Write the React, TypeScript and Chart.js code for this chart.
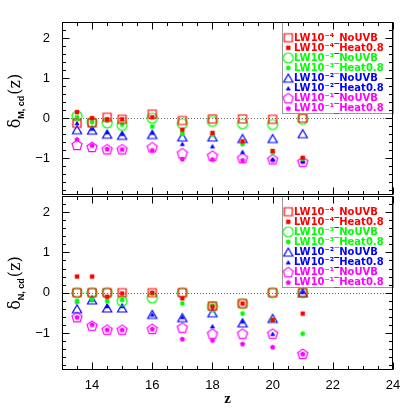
import React, { useEffect, useRef } from 'react';
import { Chart, registerables } from 'chart.js';

Chart.register(...registerables);

// ---------- data ----------
const zValues = [13.5, 14, 14.5, 15, 16, 17, 18, 19, 20, 21];
const xTickValues = [14, 16, 18, 20, 22, 24];
const yTickValues = [-1, 0, 1, 2];

const seriesLabels = [
  'LW10⁻⁴_NoUVB',
  'LW10⁻⁴_Heat0.8',
  'LW10⁻³_NoUVB',
  'LW10⁻³_Heat0.8',
  'LW10⁻²_NoUVB',
  'LW10⁻²_Heat0.8',
  'LW10⁻¹_NoUVB',
  'LW10⁻¹_Heat0.8',
];
const seriesColors = ['#ff0000', '#ff0000', '#00ff00', '#00ff00', '#0000ff', '#0000ff', '#ff00ff', '#ff00ff'];
const seriesShapes = ['square', 'square', 'circle', 'circle', 'triangle', 'triangle', 'pentagon', 'pentagon'];
const seriesFilled = [false, true, false, true, false, true, false, true];

// top panel: delta_M,cd(z)
const mLw4NoUvb = [-0.13, -0.12, 0.02, -0.03, 0.1, -0.06, -0.02, -0.02, -0.03, 0];
const mLw4Heat = [0.15, 0, -0.03, -0.03, 0.02, -0.29, -0.37, -0.58, -0.82, -0.99];
const mLw3NoUvb = [0.05, -0.1, -0.12, -0.18, 0, -0.14, -0.08, -0.14, -0.16, -0.03];
const mLw3Heat = [0.02, -0.1, -0.06, -0.16, -0.21, -0.39, -0.41, -0.65, -0.86, -1.02];
const mLw2NoUvb = [-0.29, -0.3, -0.4, -0.43, -0.41, -0.47, -0.47, -0.51, -0.51, -0.39];
const mLw2Heat = [-0.12, -0.26, -0.35, -0.39, -0.36, -0.64, -0.7, -0.84, -1.02, -1.07];
const mLw1NoUvb = [-0.67, -0.72, -0.78, -0.78, -0.73, -0.88, -0.94, -1.0, -1.03, -1.09];
const mLw1Heat = [-0.53, -0.68, -0.77, -0.78, -0.8, -1.02, -1.03, -1.05, -1.05, -1.09];

// bottom panel: delta_N,cd(z)
const nLw4NoUvb = [0, 0, 0, 0, 0, 0, -0.33, -0.27, 0, 0];
const nLw4Heat = [0.4, 0.4, -0.1, -0.02, 0, -0.14, -0.35, -0.27, -0.68, -0.52];
const nLw3NoUvb = [0, 0, 0, -0.21, -0.13, 0, -0.35, -0.27, 0, 0];
const nLw3Heat = [-0.21, -0.17, -0.21, -0.18, -0.02, -0.27, -0.32, -0.52, -0.68, -1.02];
const nLw2NoUvb = [-0.4, -0.18, -0.38, -0.38, -0.54, -0.62, -0.5, -0.75, -0.64, 0];
const nLw2Heat = [-0.21, -0.17, -0.33, -0.33, -0.54, -0.6, -0.83, -0.71, -1.02, 0.02];
const nLw1NoUvb = [-0.61, -0.82, -0.92, -0.92, -0.9, -0.87, -1.02, -1.02, -1.02, -1.52];
const nLw1Heat = [-0.61, -0.79, -0.92, -0.92, -0.9, -1.15, -1.18, -1.27, -1.35, -1.52];

const topSeries = [mLw4NoUvb, mLw4Heat, mLw3NoUvb, mLw3Heat, mLw2NoUvb, mLw2Heat, mLw1NoUvb, mLw1Heat];
const bottomSeries = [nLw4NoUvb, nLw4Heat, nLw3NoUvb, nLw3Heat, nLw2NoUvb, nLw2Heat, nLw1NoUvb, nLw1Heat];

// ---------- markers ----------
function makeMarker(shape: string, color: string, filled: boolean): HTMLCanvasElement {
  const c = document.createElement('canvas');
  c.width = 16;
  c.height = 16;
  const ctx = c.getContext('2d')!;
  const cx = 8, cy = 8;
  ctx.strokeStyle = color;
  ctx.fillStyle = color;
  ctx.lineWidth = 1.2;
  ctx.beginPath();
  if (shape === 'square') {
    const h = filled ? 2.2 : 4;
    ctx.rect(cx - h, cy - h, 2 * h, 2 * h);
  } else if (shape === 'circle') {
    const r = filled ? 2.4 : 5;
    ctx.arc(cx, cy, r, 0, Math.PI * 2);
  } else if (shape === 'triangle') {
    const r = filled ? 3 : 5.3;
    const off = r * 0.25;
    for (let k = 0; k < 3; k++) {
      const a = -Math.PI / 2 + (k * 2 * Math.PI) / 3;
      const px = cx + r * Math.cos(a);
      const py = cy + off + r * Math.sin(a);
      if (k === 0) ctx.moveTo(px, py);
      else ctx.lineTo(px, py);
    }
  } else {
    const r = filled ? 2.8 : 5.3;
    for (let k = 0; k < 5; k++) {
      const a = -Math.PI / 2 + (k * 2 * Math.PI) / 5;
      const px = cx + r * Math.cos(a);
      const py = cy + r * 0.08 + r * Math.sin(a);
      if (k === 0) ctx.moveTo(px, py);
      else ctx.lineTo(px, py);
    }
  }
  ctx.closePath();
  if (filled) ctx.fill();
  else ctx.stroke();
  return c;
}

// ---------- plugins ----------
const panelDecor = {
  id: 'panelDecor',
  beforeDatasetsDraw(chart: any) {
    const { ctx, chartArea } = chart;
    const y0 = chart.scales.y.getPixelForValue(0);
    ctx.save();
    ctx.strokeStyle = '#666';
    ctx.lineWidth = 1;
    ctx.setLineDash([1, 2]);
    ctx.beginPath();
    ctx.moveTo(chartArea.left, Math.round(y0) + 0.5);
    ctx.lineTo(chartArea.right, Math.round(y0) + 0.5);
    ctx.stroke();
    ctx.restore();
  },
  afterDatasetsDraw(chart: any) {
    const { ctx, chartArea } = chart;
    // legend box
    const w = 111, h = 91;
    const bx = chartArea.right - w;
    const by = chartArea.top;
    ctx.save();
    ctx.fillStyle = '#fff';
    ctx.fillRect(bx, by, w, h);
    ctx.strokeStyle = '#999';
    ctx.lineWidth = 1;
    ctx.strokeRect(Math.round(bx) + 0.5, Math.round(by) + 0.5, w, h);
    ctx.font = 'bold 10px "DejaVu Sans"';
    ctx.textBaseline = 'middle';
    ctx.textAlign = 'left';
    chart.data.datasets.forEach((ds: any, i: number) => {
      const yy = by + 15.7 + i * 10.1;
      const img = ds.pointStyle as HTMLCanvasElement;
      ctx.drawImage(img, bx + 6.3 - img.width / 2, yy - img.height / 2);
      ctx.fillStyle = ds.borderColor;
      ctx.fillText(ds.label, bx + 12, yy + 0.5);
    });
    ctx.restore();
  },
  afterDraw(chart: any) {
    const { ctx, chartArea } = chart;
    const opts = chart.options.plugins.panelDecor;
    const xs = chart.scales.x;
    const ys = chart.scales.y;
    const L = Math.round(chartArea.left) + 0.5;
    const R = Math.round(chartArea.right) - 0.5;
    const T = Math.round(chartArea.top) + 0.5;
    const B = Math.round(chartArea.bottom) - 0.5;
    ctx.save();
    ctx.strokeStyle = '#000';
    ctx.lineWidth = 1;
    ctx.strokeRect(L, T, R - L, B - T);
    ctx.beginPath();
    // x ticks (major every 2, minor every 0.5)
    for (let k = Math.ceil(xs.min * 2); k <= Math.floor(xs.max * 2); k++) {
      const v = k / 2;
      const major = v % 2 === 0;
      const len = major ? 7 : 3.5;
      const px = Math.round(xs.getPixelForValue(v)) + 0.5;
      ctx.moveTo(px, B);
      ctx.lineTo(px, B - len);
      ctx.moveTo(px, T);
      ctx.lineTo(px, T + len);
    }
    // y ticks (major every 1, minor every 0.2)
    for (let k = Math.ceil(ys.min * 5); k <= Math.floor(ys.max * 5); k++) {
      const v = k / 5;
      const major = k % 5 === 0;
      const len = major ? 7 : 3.5;
      const py = Math.round(ys.getPixelForValue(v)) + 0.5;
      ctx.moveTo(L, py);
      ctx.lineTo(L + len, py);
      ctx.moveTo(R, py);
      ctx.lineTo(R - len, py);
    }
    ctx.stroke();

    // y axis label: delta_{sub}(z)
    ctx.translate(opts.labelX, opts.labelY);
    ctx.rotate(-Math.PI / 2);
    ctx.fillStyle = '#000';
    ctx.textBaseline = 'alphabetic';
    ctx.textAlign = 'left';
    const mainFont = '16px "DejaVu Serif"';
    const subFont = 'bold 9px "Liberation Sans"';
    ctx.font = mainFont;
    const wD = ctx.measureText('δ').width;
    const wZ = ctx.measureText('(z)').width;
    ctx.font = subFont;
    const wS = ctx.measureText(opts.sub).width;
    const total = wD + wS + 1 + wZ;
    let x = -total / 2;
    ctx.font = mainFont;
    ctx.fillText('δ', x, 4);
    x += wD;
    ctx.font = subFont;
    ctx.fillText(opts.sub, x, 7.5);
    x += wS + 1;
    ctx.font = mainFont;
    ctx.fillText('(z)', x, 4);
    ctx.restore();
  },
};

function minusFmt(v: number) {
  return v < 0 ? '\u2212' + Math.abs(v) : String(v);
}

function buildConfig(series: number[][], markers: HTMLCanvasElement[], isBottom: boolean, sub: string, labelY: number): any {
  return {
    type: 'scatter',
    data: {
      datasets: series.map((vals, i) => ({
        label: seriesLabels[i],
        data: zValues.map((z, j) => ({ x: z, y: vals[j] })),
        pointStyle: markers[i],
        borderColor: seriesColors[i],
        backgroundColor: seriesColors[i],
        showLine: false,
      })),
    },
    options: {
      animation: false,
      responsive: false,
      maintainAspectRatio: false,
      events: [],
      layout: { padding: { top: isBottom ? 16 : 22, right: 22, bottom: isBottom ? 0 : 4, left: 0 } },
      plugins: {
        legend: { display: false },
        tooltip: { enabled: false },
        panelDecor: { sub, labelX: 16, labelY },
      },
      scales: {
        x: {
          type: 'linear',
          min: 13,
          max: 24,
          display: isBottom,
          afterBuildTicks: (s: any) => {
            s.ticks = xTickValues.map((v) => ({ value: v }));
          },
          afterFit: (s: any) => {
            s.height = isBottom ? 45 : 0;
            s.paddingLeft = 0;
            s.paddingRight = 0;
          },
          grid: { display: false, drawTicks: false },
          border: { display: false },
          ticks: {
            display: isBottom,
            color: '#000',
            font: { family: '"Liberation Sans"', size: 13 },
            padding: 8,
            maxRotation: 0,
            autoSkip: false,
          },
          title: {
            display: isBottom,
            text: 'z',
            color: '#000',
            font: { family: '"Liberation Serif"', size: 15, weight: 'bold' },
            padding: { top: 0, bottom: 7 },
          },
        },
        y: {
          type: 'linear',
          min: -1.92,
          max: 2.4,
          afterBuildTicks: (s: any) => {
            s.ticks = yTickValues.map((v) => ({ value: v }));
          },
          afterFit: (s: any) => {
            s.width = 62;
            s.paddingTop = 0;
            s.paddingBottom = 0;
          },
          grid: { display: false, drawTicks: false },
          border: { display: false },
          ticks: {
            color: '#000',
            font: { family: '"Liberation Sans"', size: 13 },
            padding: 12,
            callback: (v: number) => minusFmt(v),
          },
        },
      },
    },
    plugins: [panelDecor],
  };
}

export default function App() {
  const topRef = useRef<HTMLCanvasElement>(null);
  const botRef = useRef<HTMLCanvasElement>(null);

  useEffect(() => {
    const markers = seriesShapes.map((s, i) => makeMarker(s, seriesColors[i], seriesFilled[i]));
    const top = new Chart(topRef.current!, buildConfig(topSeries, markers, false, 'M, cd', 101));
    const bot = new Chart(botRef.current!, buildConfig(bottomSeries, markers, true, 'N, cd', 103));
    return () => {
      top.destroy();
      bot.destroy();
    };
  }, []);

  return (
    <div style={{ position: 'absolute', left: 0, top: 0, width: 415, height: 415, background: '#fff' }}>
      <canvas ref={topRef} width={415} height={200} style={{ position: 'absolute', left: 0, top: 0, display: 'block' }} />
      <canvas ref={botRef} width={415} height={235} style={{ position: 'absolute', left: 0, top: 180, display: 'block' }} />
    </div>
  );
}
